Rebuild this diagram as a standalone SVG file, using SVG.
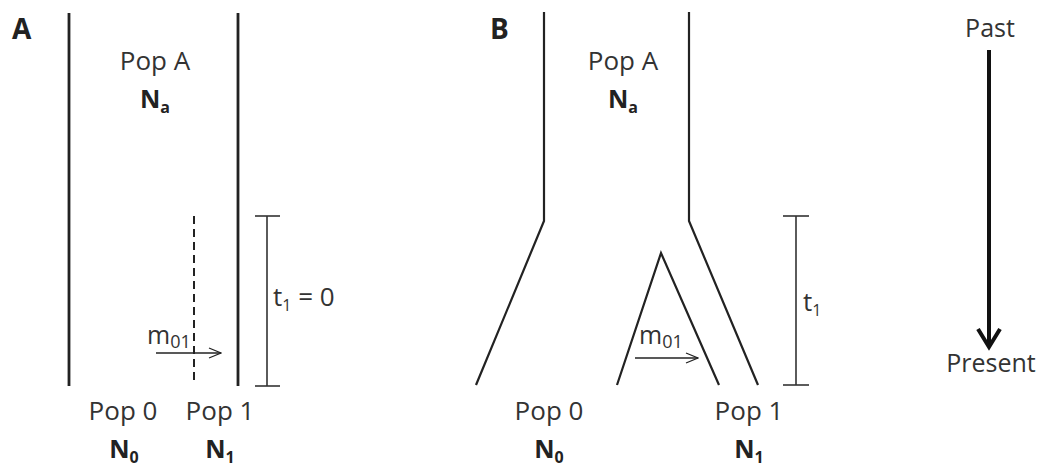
<svg xmlns="http://www.w3.org/2000/svg" width="1043" height="468" viewBox="0 0 1043 468">
<style>
.t{font-family:"Open Sans","Liberation Sans",sans-serif;font-size:26px;fill:#333;text-anchor:middle}
.b{font-family:"Open Sans","Liberation Sans",sans-serif;font-size:25px;font-weight:bold;fill:#222;text-anchor:middle}
.lbl{font-family:"Open Sans","Liberation Sans",sans-serif;font-size:28px;font-weight:bold;fill:#222}
.sub{font-size:16px}
.msub{font-size:18px}
.pop{fill:none;stroke:#222;stroke-width:2.8}
.popb{fill:none;stroke:#222;stroke-width:2.2}
.bar{fill:none;stroke:#333;stroke-width:1.6}
.mig{fill:none;stroke:#222;stroke-width:1.3}
.m{font-family:"Open Sans","Liberation Sans",sans-serif;font-size:25px;fill:#333}
</style>
<defs>
<marker id="open" viewBox="0 0 14 12" refX="13" refY="6" markerWidth="14" markerHeight="12" markerUnits="userSpaceOnUse" orient="auto">
<path d="M1,1 L13,6 L1,11" fill="none" stroke="#222" stroke-width="1.3"/>
</marker>
</defs>
<rect width="1043" height="468" fill="#fff"/>

<g id="panelA">
<text class="lbl" x="12" y="39">A</text>
<g id="A-popA">
<line class="pop" x1="69" y1="13" x2="69" y2="386"/>
<line class="pop" x1="238" y1="13" x2="238" y2="386"/>
<text class="t" x="155" y="70">Pop A</text>
<text class="b" x="155" y="108">N<tspan class="sub" dy="5">a</tspan></text>
</g>
<g id="A-pop0">
<text class="t" x="123" y="420">Pop 0</text>
<text class="b" x="124" y="458">N<tspan class="sub" dy="5">0</tspan></text>
</g>
<g id="A-pop1">
<line x1="194" y1="216" x2="194" y2="385" stroke="#222" stroke-width="2" stroke-dasharray="8,5"/>
<text class="t" x="220" y="420">Pop 1</text>
<text class="b" x="220" y="458">N<tspan class="sub" dy="5">1</tspan></text>
</g>
<g id="A-t1">
<line class="bar" x1="267" y1="216" x2="267" y2="386"/>
<line class="bar" x1="255" y1="216" x2="280" y2="216"/>
<line class="bar" x1="255" y1="386" x2="280" y2="386"/>
<text class="t" x="273" y="306" style="text-anchor:start">t<tspan class="sub" dy="5">1</tspan><tspan dy="-5"> = 0</tspan></text>
</g>
</g>

<g id="panelB">
<text class="lbl" x="490" y="39">B</text>
<g id="B-popA">
<polyline class="popb" points="544,12 544,221 476,385"/>
<polyline class="popb" points="689,12 689,221 758,385"/>
<text class="t" x="623" y="70">Pop A</text>
<text class="b" x="623" y="108">N<tspan class="sub" dy="5">a</tspan></text>
</g>
<g id="B-pop1branch">
<polyline class="popb" points="617,385 661,253 719,385"/>
</g>
<g id="B-pop0">
<text class="t" x="549" y="420">Pop 0</text>
<text class="b" x="549" y="458">N<tspan class="sub" dy="5">0</tspan></text>
</g>
<g id="B-pop1">
<text class="t" x="749" y="420">Pop 1</text>
<text class="b" x="749" y="458">N<tspan class="sub" dy="5">1</tspan></text>
</g>
<g id="B-t1">
<line class="bar" x1="796" y1="216" x2="796" y2="385"/>
<line class="bar" x1="783" y1="216" x2="809" y2="216"/>
<line class="bar" x1="783" y1="385" x2="809" y2="385"/>
<text class="t" x="803" y="311" style="text-anchor:start">t<tspan class="sub" dy="5">1</tspan></text>
</g>
</g>

<g id="time">
<text class="t" x="990" y="37" style="font-size:25px">Past</text>
<text class="t" x="991" y="372" style="font-size:25px">Present</text>
</g>

<g id="connectors">
<line class="mig" x1="156" y1="353" x2="221" y2="353" marker-end="url(#open)"/>
<text class="m" x="147" y="344">m<tspan class="msub" dy="4">01</tspan></text>
<line class="mig" x1="635" y1="358" x2="698" y2="358" marker-end="url(#open)"/>
<text class="m" x="639" y="344">m<tspan class="msub" dy="4">01</tspan></text>
<line x1="989" y1="50" x2="989" y2="346" stroke="#111" stroke-width="4"/>
<polyline points="978,329 989,347 1000,329" fill="none" stroke="#111" stroke-width="4" stroke-linejoin="miter"/>
</g>
</svg>
